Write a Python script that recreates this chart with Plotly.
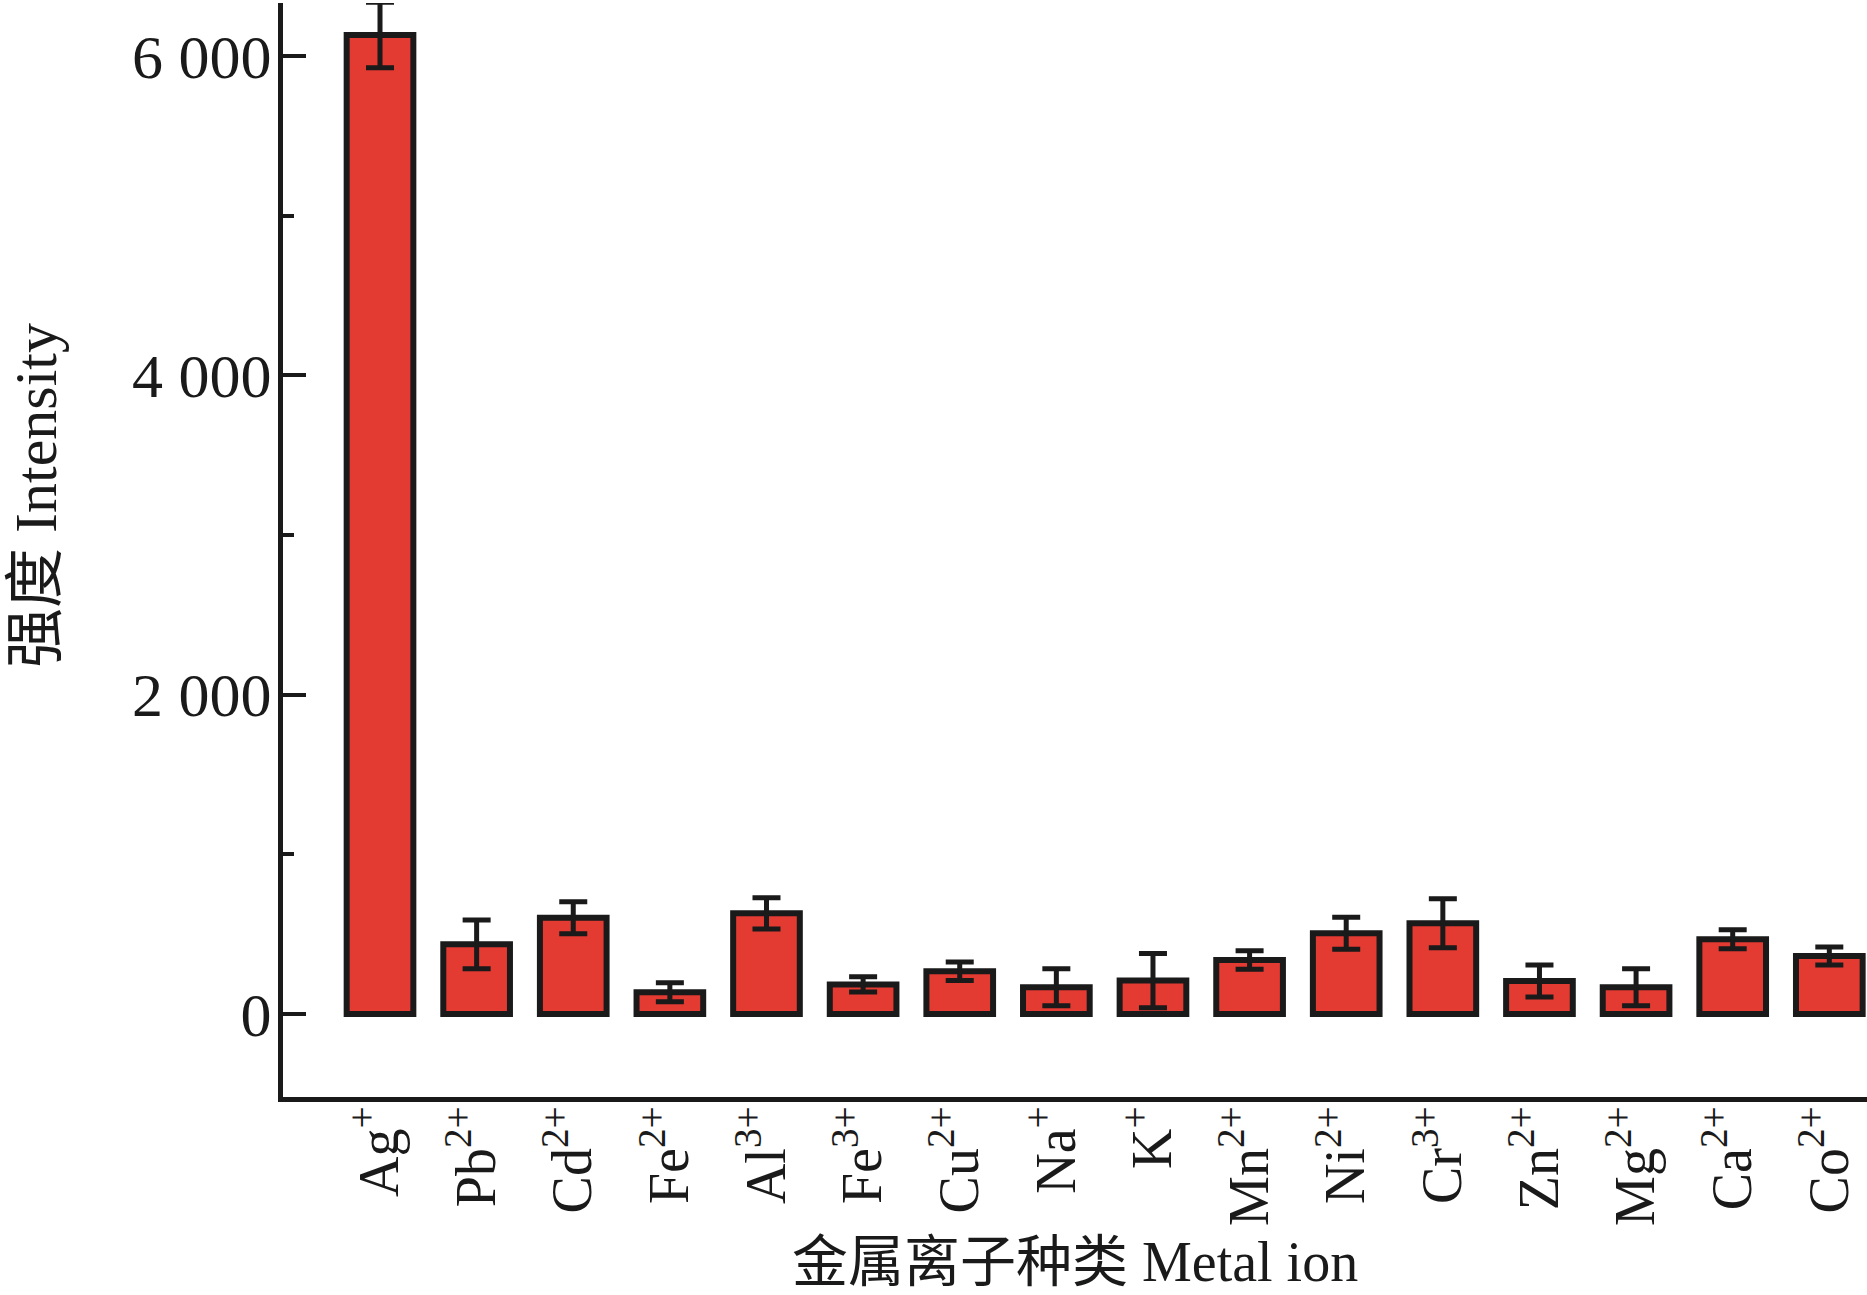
import plotly.graph_objects as go

# ---- data ----
ions = ["Ag<sup>+</sup>", "Pb<sup>2+</sup>", "Cd<sup>2+</sup>", "Fe<sup>2+</sup>",
        "Al<sup>3+</sup>", "Fe<sup>3+</sup>", "Cu<sup>2+</sup>", "Na<sup>+</sup>",
        "K<sup>+</sup>", "Mn<sup>2+</sup>", "Ni<sup>2+</sup>", "Cr<sup>3+</sup>",
        "Zn<sup>2+</sup>", "Mg<sup>2+</sup>", "Ca<sup>2+</sup>", "Co<sup>2+</sup>"]
intensity = [6130, 436, 603, 136, 630, 185, 267, 167, 209, 338, 505, 568, 207, 167, 468, 363]
error = [205, 153, 100, 60, 98, 48, 58, 116, 170, 58, 100, 153, 100, 116, 60, 57]
y_tick_vals = [0, 2000, 4000, 6000]
y_tick_text = ["0", "2 000", "4 000", "6 000"]
x_title = "金属离子种类 Metal ion"
y_title = "强度 Intensity"

FONT = "Liberation Serif, 'Noto Sans CJK SC', serif"
INK = "#1a1a1a"

W, H = 1867, 1295
ML, MR, MT, MB = 283, 0, 3, 198
PW, PH = W - ML - MR, H - MT - MB

fig = go.Figure()
fig.add_trace(go.Bar(
    x=ions, y=intensity,
    width=0.69,
    marker=dict(color="#e33a32", line=dict(color=INK, width=6)),
    error_y=dict(type="data", array=error, visible=True,
                 color=INK, thickness=5, width=14),
    cliponaxis=False,
    showlegend=False,
))

fig.update_layout(
    width=W, height=H,
    margin=dict(l=ML, r=MR, t=MT, b=MB),
    paper_bgcolor="white", plot_bgcolor="white",
    font=dict(family=FONT, color=INK),
    bargap=0.31,
    annotations=[
        dict(text=x_title, xref="paper", yref="paper",
             x=0.5, y=(0 - (1262 - (H - MB))) / PH,
             xanchor="center", yanchor="middle", showarrow=False,
             font=dict(family=FONT, size=56, color=INK)),
        dict(text=y_title, xref="paper", yref="paper",
             x=(36 - ML) / PW, y=((H - MB) - 496) / PH,
             xanchor="center", yanchor="middle", showarrow=False,
             textangle=-90,
             font=dict(family=FONT, size=60, color=INK)),
    ],
)

fig.update_xaxes(
    type="category",
    range=[-1.004, 15.39],
    showline=True, linecolor=INK, linewidth=5,
    ticks="", showgrid=False, zeroline=False,
    tickangle=-90,
    ticklabelstandoff=-18,
    tickfont=dict(family=FONT, size=56, color=INK),
)

fig.update_yaxes(
    range=[-520, 6331],
    showline=True, linecolor=INK, linewidth=5,
    showgrid=False, zeroline=False,
    tickmode="array", tickvals=y_tick_vals, ticktext=y_tick_text,
    ticks="inside", ticklen=23, tickwidth=4, tickcolor=INK,
    ticklabelstandoff=-6,
    minor=dict(tickmode="linear", tick0=0, dtick=1000, ticks="inside",
               ticklen=11, tickwidth=4, tickcolor=INK, showgrid=False),
    tickfont=dict(family=FONT, size=62, color=INK),
)

fig.write_html("out.html", config={"displayModeBar": False},
               post_script="document.body.style.margin='0';")
